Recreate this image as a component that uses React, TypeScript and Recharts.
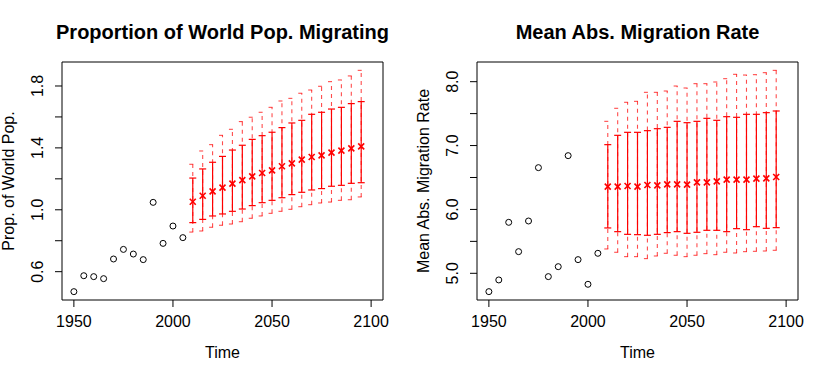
import React from 'react';
import { ComposedChart, Scatter, XAxis, YAxis, ErrorBar, ReferenceArea } from 'recharts';

const YEARS_OBS = [1950, 1955, 1960, 1965, 1970, 1975, 1980, 1985, 1990, 1995, 2000, 2005];
const YEARS_PROJ = [2010, 2015, 2020, 2025, 2030, 2035, 2040, 2045, 2050, 2055, 2060, 2065, 2070, 2075, 2080, 2085, 2090, 2095];

const PROP_OBS = [0.471, 0.574, 0.568, 0.555, 0.682, 0.744, 0.714, 0.678, 1.048, 0.783, 0.895, 0.82];
const PROP_MED = [1.052, 1.091, 1.119, 1.143, 1.169, 1.192, 1.216, 1.238, 1.255, 1.281, 1.3, 1.324, 1.341, 1.352, 1.369, 1.382, 1.397, 1.41];
const PROP_LO80 = [0.917, 0.938, 0.96, 0.973, 0.99, 1.005, 1.027, 1.046, 1.061, 1.078, 1.098, 1.113, 1.128, 1.137, 1.152, 1.158, 1.171, 1.175];
const PROP_HI80 = [1.205, 1.264, 1.307, 1.345, 1.386, 1.417, 1.455, 1.479, 1.501, 1.531, 1.561, 1.578, 1.617, 1.63, 1.651, 1.662, 1.686, 1.699];
const PROP_LO95 = [0.856, 0.863, 0.887, 0.9, 0.908, 0.923, 0.945, 0.96, 0.977, 0.99, 1.003, 1.02, 1.033, 1.044, 1.05, 1.061, 1.065, 1.083];
const PROP_HI95 = [1.294, 1.38, 1.421, 1.481, 1.52, 1.57, 1.598, 1.63, 1.662, 1.703, 1.72, 1.753, 1.774, 1.798, 1.828, 1.839, 1.865, 1.901];

const RATE_OBS = [4.713, 4.896, 5.798, 5.339, 5.819, 6.654, 4.948, 5.104, 6.842, 5.214, 4.828, 5.313];
const RATE_MED = [6.357, 6.357, 6.367, 6.357, 6.383, 6.377, 6.393, 6.393, 6.388, 6.424, 6.424, 6.44, 6.466, 6.466, 6.466, 6.482, 6.487, 6.508];
const RATE_LO80 = [5.71, 5.652, 5.61, 5.605, 5.595, 5.61, 5.637, 5.652, 5.626, 5.642, 5.673, 5.673, 5.652, 5.699, 5.683, 5.73, 5.704, 5.715];
const RATE_HI80 = [7.014, 7.16, 7.207, 7.207, 7.233, 7.264, 7.285, 7.379, 7.358, 7.379, 7.426, 7.395, 7.452, 7.442, 7.489, 7.489, 7.515, 7.541];
const RATE_LO95 = [5.381, 5.329, 5.261, 5.261, 5.23, 5.271, 5.313, 5.282, 5.261, 5.282, 5.308, 5.292, 5.329, 5.318, 5.339, 5.344, 5.349, 5.36];
const RATE_HI95 = [7.379, 7.583, 7.677, 7.692, 7.833, 7.833, 7.854, 7.932, 7.901, 7.969, 7.969, 7.995, 8.047, 8.115, 8.104, 8.11, 8.141, 8.177];

const X_TICKS = [1950, 2000, 2050, 2100];
const X_DOMAIN = [1944, 2106];

const PROP_Y_TICKS = [0.6, 0.8, 1.0, 1.2, 1.4, 1.6, 1.8];
const PROP_Y_LABELS = ['0.6', '', '1.0', '', '1.4', '', '1.8'];
const PROP_Y_DOMAIN = [0.417, 1.955];

const RATE_Y_TICKS = [5.0, 5.5, 6.0, 6.5, 7.0, 7.5, 8.0];
const RATE_Y_LABELS = ['5.0', '', '6.0', '', '7.0', '', '8.0'];
const RATE_Y_DOMAIN = [4.582, 8.308];

const FONT = '"Liberation Sans", Arial, Helvetica, sans-serif';
const W = 415;
const H = 378;
const PLOT_LEFT = 62;
const PLOT_RIGHT = 383;
const PLOT_TOP = 62;
const PLOT_BOTTOM = 300;

function buildObs(values: number[]) {
  return YEARS_OBS.map((year, i) => ({ year, value: values[i] }));
}

function buildProj(med: number[], lo80: number[], hi80: number[], lo95: number[], hi95: number[]) {
  return YEARS_PROJ.map((year, i) => ({
    year,
    value: med[i],
    e80: [med[i] - lo80[i], hi80[i] - med[i]],
    e95: [med[i] - lo95[i], hi95[i] - med[i]],
  }));
}

const OpenCircle = (props: any) => {
  const { cx, cy } = props;
  if (cx == null || cy == null) return null;
  return <circle cx={cx} cy={cy} r={3} fill="none" stroke="#000" strokeWidth={1} />;
};

const RedCross = (props: any) => {
  const { cx, cy } = props;
  if (cx == null || cy == null) return null;
  const s = 3;
  return (
    <g stroke="#ff0000" strokeWidth={1.6}>
      <line x1={cx - s} y1={cy - s} x2={cx + s} y2={cy + s} />
      <line x1={cx - s} y1={cy + s} x2={cx + s} y2={cy - s} />
    </g>
  );
};

function makeYTick(ticks: number[], labels: string[]) {
  return (props: any) => {
    const { y, payload } = props;
    const idx = ticks.findIndex((t) => Math.abs(t - payload.value) < 1e-9);
    const label = idx >= 0 ? labels[idx] : '';
    const tx = 43.5;
    return (
      <g>
        <line x1={PLOT_LEFT} x2={PLOT_LEFT - 7} y1={y} y2={y} stroke="#000" strokeWidth={1} />
        {label ? (
          <text
            x={tx}
            y={y}
            transform={`rotate(-90, ${tx}, ${y})`}
            textAnchor="middle"
            fontSize={16}
            fontFamily={FONT}
            fill="#000"
          >
            {label}
          </text>
        ) : null}
      </g>
    );
  };
}

type PanelProps = {
  title: string;
  yLabel: string;
  obs: { year: number; value: number }[];
  proj: any[];
  yDomain: number[];
  yTicks: number[];
  yLabels: string[];
};

function Panel({ title, yLabel, obs, proj, yDomain, yTicks, yLabels }: PanelProps) {
  const YTick = makeYTick(yTicks, yLabels);
  return (
    <div style={{ position: 'relative', width: W, height: H }}>
      <div
        style={{
          position: 'absolute',
          left: PLOT_LEFT - 40,
          width: PLOT_RIGHT - PLOT_LEFT + 80,
          top: 22,
          textAlign: 'center',
          fontFamily: FONT,
          fontWeight: 'bold',
          fontSize: 20,
          lineHeight: '20px',
          color: '#000',
          whiteSpace: 'nowrap',
        }}
      >
        {title}
      </div>
      <ComposedChart
        width={W}
        height={H}
        margin={{ top: PLOT_TOP, right: W - PLOT_RIGHT, bottom: 8, left: 2 }}
        style={{ position: 'absolute', left: 0, top: 0 }}
      >
        <XAxis
          type="number"
          dataKey="year"
          domain={X_DOMAIN}
          ticks={X_TICKS}
          interval={0}
          allowDataOverflow
          height={70}
          tickSize={7}
          tickMargin={9}
          axisLine={false}
          tickLine={{ stroke: '#000', strokeWidth: 1 }}
          tick={{ fill: '#000', fontSize: 16, fontFamily: FONT }}
          label={{
            value: 'Time',
            content: () => (
              <text
                x={(PLOT_LEFT + PLOT_RIGHT) / 2}
                y={358}
                textAnchor="middle"
                fontSize={16}
                fontFamily={FONT}
                fill="#000"
              >
                Time
              </text>
            ),
          }}
        />
        <YAxis
          type="number"
          domain={yDomain}
          ticks={yTicks}
          interval={0}
          allowDataOverflow
          width={60}
          axisLine={false}
          tickLine={false}
          tick={YTick}
          label={{
            value: yLabel,
            content: () => (
              <text
                x={14}
                y={(PLOT_TOP + PLOT_BOTTOM) / 2}
                transform={`rotate(-90, 14, ${(PLOT_TOP + PLOT_BOTTOM) / 2})`}
                textAnchor="middle"
                fontSize={16}
                fontFamily={FONT}
                fill="#000"
              >
                {yLabel}
              </text>
            ),
          }}
        />
        <ReferenceArea
          x1={X_DOMAIN[0]}
          x2={X_DOMAIN[1]}
          y1={yDomain[0]}
          y2={yDomain[1]}
          fill="none"
          fillOpacity={0}
          stroke="#000"
          strokeWidth={1}
          ifOverflow="visible"
        />
        <Scatter data={obs} dataKey="value" shape={OpenCircle} isAnimationActive={false} />
        <Scatter data={proj} dataKey="value" shape={RedCross} isAnimationActive={false}>
          <ErrorBar
            dataKey="e95"
            direction="y"
            width={3.5}
            stroke="#ff0000"
            strokeOpacity={0.7}
            strokeWidth={1.1}
            strokeDasharray="4 4"
            isAnimationActive={false}
          />
          <ErrorBar
            dataKey="e80"
            direction="y"
            width={3.5}
            stroke="#ff0000"
            strokeWidth={1.2}
            isAnimationActive={false}
          />
        </Scatter>
      </ComposedChart>
    </div>
  );
}

export default function App() {
  const propObs = buildObs(PROP_OBS);
  const propProj = buildProj(PROP_MED, PROP_LO80, PROP_HI80, PROP_LO95, PROP_HI95);
  const rateObs = buildObs(RATE_OBS);
  const rateProj = buildProj(RATE_MED, RATE_LO80, RATE_HI80, RATE_LO95, RATE_HI95);
  return (
    <div style={{ position: 'absolute', left: 0, top: 0, width: 830, height: 378, background: '#fff', display: 'flex' }}>
      <Panel
        title="Proportion of World Pop. Migrating"
        yLabel="Prop. of World Pop."
        obs={propObs}
        proj={propProj}
        yDomain={PROP_Y_DOMAIN}
        yTicks={PROP_Y_TICKS}
        yLabels={PROP_Y_LABELS}
      />
      <Panel
        title="Mean Abs. Migration Rate"
        yLabel="Mean Abs. Migration Rate"
        obs={rateObs}
        proj={rateProj}
        yDomain={RATE_Y_DOMAIN}
        yTicks={RATE_Y_TICKS}
        yLabels={RATE_Y_LABELS}
      />
    </div>
  );
}
